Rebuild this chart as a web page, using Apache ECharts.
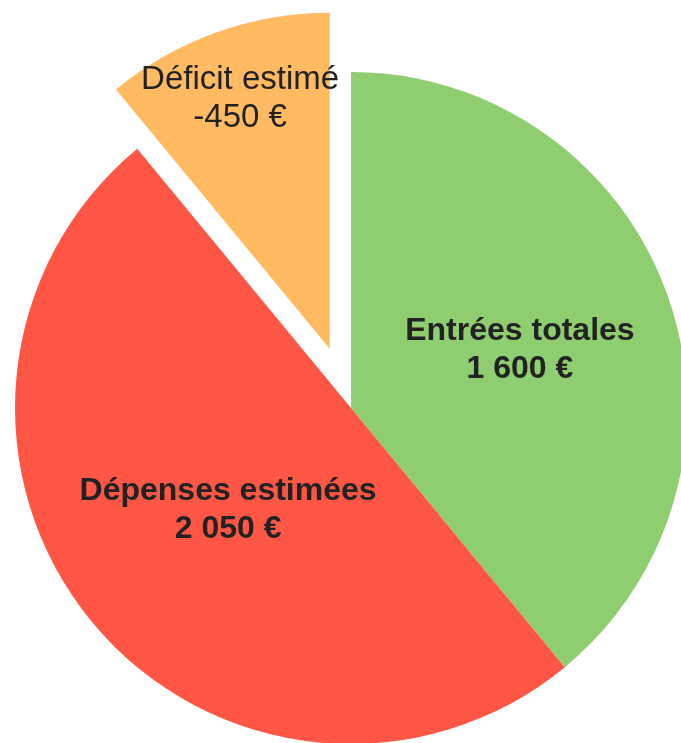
<!DOCTYPE html>
<html>
<head>
<meta charset="utf-8">
<script src="https://cdn.jsdelivr.net/npm/echarts@6/dist/echarts.min.js"></script>
<style>
  html, body { margin: 0; padding: 0; background: #fff; }
  #chart { width: 681px; height: 743px; }
</style>
</head>
<body>
<div id="chart"></div>
<script>
// budget slices, clockwise from 12 o'clock
const categories = ['Entrées totales', 'Dépenses estimées', 'Déficit estimé'];
const amounts = [1600, 2050, -450];
const colors = ['#8fce70', '#ff5645', '#ffba62'];
const exploded = [false, false, true];

// "1 600 €" style
const fmtEuro = v => {
  const s = String(Math.abs(v)).replace(/\B(?=(\d{3})+(?!\d))/g, ' ');
  return (v < 0 ? '-' : '') + s + ' €';
};

// small nudges so labels sit where the original has them
const labelPad = [[0, 0, 0, 16], [0, 0, 0, 18], [0, 0, 0, 0]];
const liftRed = 1; // index whose label gets a spacer line below it

const pieData = categories.map((name, i) => ({
  name: name,
  value: Math.abs(amounts[i]),
  raw: amounts[i],
  selected: exploded[i],
  itemStyle: { color: colors[i] },
  label: { show: !exploded[i], padding: labelPad[i] }
}));

// transparent copy, only used to hang the exploded slice's label further out
const ghostData = categories.map((name, i) => ({
  name: name,
  value: Math.abs(amounts[i]),
  raw: amounts[i],
  selected: exploded[i],
  itemStyle: { color: 'rgba(0,0,0,0)' },
  label: { show: exploded[i] }
}));

const baseLabel = {
  position: 'inside',
  color: '#222',
  fontFamily: 'Liberation Sans, Arial, sans-serif',
  fontSize: 32,
  fontWeight: 'bold',
  lineHeight: 38,
  formatter: p => p.name + '\n' + fmtEuro(p.data.raw) +
    (p.seriesIndex === 0 && p.dataIndex === liftRed ? '\n{sp| }' : ''),
  rich: { sp: { fontSize: 1, lineHeight: 14 } }
};

const chart = echarts.init(document.getElementById('chart'));
chart.setOption({
  animation: false,
  series: [{
    type: 'pie',
    center: [351, 408],
    radius: [0, 336],
    startAngle: 90,
    selectedMode: 'single',
    selectedOffset: 63,
    silent: true,
    data: pieData,
    label: baseLabel,
    labelLine: { show: false },
    emphasis: { disabled: true }
  }, {
    type: 'pie',
    center: [351, 408],
    radius: [188, 336],
    startAngle: 90,
    selectedMode: 'single',
    selectedOffset: 63,
    silent: true,
    data: ghostData,
    label: Object.assign({}, baseLabel, { fontWeight: 'normal', fontSize: 33 }),
    labelLine: { show: false },
    emphasis: { disabled: true }
  }]
});
</script>
</body>
</html>
